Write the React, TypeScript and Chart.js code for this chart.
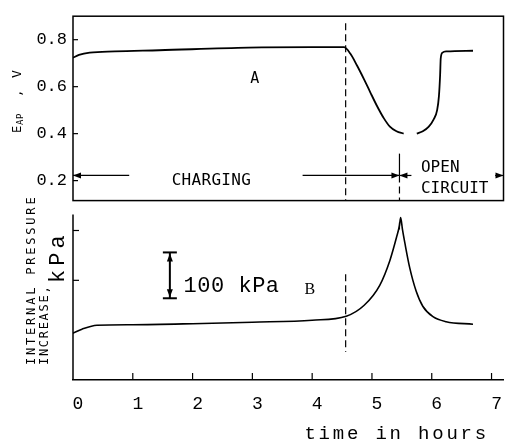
import { useEffect, useRef } from 'react';
import { Chart, registerables } from 'chart.js';

Chart.register(...registerables);

// ---- data ----
const TIME_A = [0, 0.1, 0.28, 0.7, 1.44, 2.93, 4.0, 4.53, 4.64, 4.75, 4.87, 4.97, 5.08, 5.2, 5.3, 5.41, 5.53, 5.64, 5.75, 5.85, 5.95, 6.03, 6.09, 6.12, 6.14, 6.15, 6.18, 6.25, 6.69];
const VOLT_A: (number | null)[] = [0.723, 0.735, 0.745, 0.75, 0.755, 0.766, 0.768, 0.768, 0.74, 0.69, 0.63, 0.577, 0.52, 0.465, 0.43, 0.41, 0.4, null, 0.4, 0.41, 0.43, 0.46, 0.5, 0.56, 0.65, 0.72, 0.745, 0.75, 0.753];

const TIME_B = [0, 0.15, 0.4, 1, 2, 3, 4, 4.57, 4.87, 5.13, 5.3, 5.41, 5.46, 5.48, 5.51, 5.55, 5.63, 5.74, 5.85, 6.02, 6.24, 6.69];
const PRESS_B = [94, 102, 110, 111, 113, 116, 120, 128, 150, 190, 240, 286, 310, 326, 302, 275, 226, 178, 148, 127, 117, 112];

const X_TICKS = [0, 1, 2, 3, 4, 5, 6, 7];
const V_TICKS = [0.2, 0.4, 0.6, 0.8];
const P_TICKS = [200, 300];

const X_MAX = 7.2;
const V_PANEL_MIN = 0.115;
const V_PANEL_MAX = 0.9;
const P_PANEL_MAX = 332;

// annotations (data units)
const CHARGE_END = 4.56;
const SWITCH_T = 5.46;
const ARROW_V = 0.222;
const SCALE_BAR_T = 1.62;
const SCALE_BAR_LO = 164;
const SCALE_BAR_HI = 256;

// layout fractions of the plot height
const TOP_FRAC = 185 / 365;
const BOTTOM_FRAC = 166 / 365;

const MONO = 'Liberation Mono';
const TYPE = 'DejaVu Sans Mono';

function line(ctx: CanvasRenderingContext2D, x1: number, y1: number, x2: number, y2: number) {
  ctx.beginPath();
  ctx.moveTo(x1, y1);
  ctx.lineTo(x2, y2);
  ctx.stroke();
}

function head(ctx: CanvasRenderingContext2D, x: number, y: number, dx: number, dy: number) {
  const L = 8, W = 3;
  ctx.beginPath();
  ctx.moveTo(x, y);
  ctx.lineTo(x - dx * L - dy * W, y - dy * L + dx * W);
  ctx.lineTo(x - dx * L + dy * W, y - dy * L - dx * W);
  ctx.closePath();
  ctx.fill();
}

function text(ctx: CanvasRenderingContext2D, s: string, x: number, y: number, font: string, align: CanvasTextAlign = 'left', spacing = 0) {
  ctx.save();
  ctx.font = font;
  ctx.textAlign = align;
  ctx.textBaseline = 'alphabetic';
  (ctx as any).letterSpacing = spacing + 'px';
  ctx.fillText(s, x, y);
  ctx.restore();
}

function rotText(ctx: CanvasRenderingContext2D, s: string, x: number, y: number, font: string, align: CanvasTextAlign = 'left', spacing = 0) {
  ctx.save();
  ctx.translate(x, y);
  ctx.rotate(-Math.PI / 2);
  ctx.font = font;
  ctx.textAlign = align;
  ctx.textBaseline = 'alphabetic';
  (ctx as any).letterSpacing = spacing + 'px';
  ctx.fillText(s, 0, 0);
  ctx.restore();
}

const annotations = {
  id: 'annotations',
  afterDatasetsDraw(chart: any) {
    const { ctx, chartArea: ca, scales } = chart;
    const x = scales.x, yA = scales.yA, yB = scales.yB;
    const px = (t: number) => x.getPixelForValue(t);
    ctx.save();
    ctx.strokeStyle = '#000';
    ctx.fillStyle = '#000';
    ctx.lineWidth = 1.5;

    // top panel frame
    const tTop = yA.getPixelForValue(V_PANEL_MAX);
    const tBot = yA.getPixelForValue(V_PANEL_MIN);
    ctx.strokeRect(ca.left, tTop, ca.right - ca.left, tBot - tTop);
    // bottom panel left axis
    line(ctx, ca.left, yB.getPixelForValue(P_PANEL_MAX), ca.left, ca.bottom);

    // inward ticks
    ctx.lineWidth = 1.2;
    V_TICKS.forEach(v => { const p = yA.getPixelForValue(v); line(ctx, ca.left, p, ca.left + 5, p); });
    P_TICKS.forEach(v => { const p = yB.getPixelForValue(v); line(ctx, ca.left, p, ca.left + 6, p); });
    X_TICKS.slice(1).forEach(t => { const p = px(t); line(ctx, p, ca.bottom, p, ca.bottom - 7); });

    // dashed end-of-charge lines
    ctx.setLineDash([7, 4]);
    line(ctx, px(CHARGE_END), yA.getPixelForValue(0.87), px(CHARGE_END), tBot);
    line(ctx, px(CHARGE_END), yB.getPixelForValue(212), px(CHARGE_END), yB.getPixelForValue(56));
    line(ctx, px(SWITCH_T), yA.getPixelForValue(ARROW_V), px(SWITCH_T), tBot);
    ctx.setLineDash([]);
    line(ctx, px(SWITCH_T), yA.getPixelForValue(0.315), px(SWITCH_T), yA.getPixelForValue(ARROW_V));
    line(ctx, px(SWITCH_T), yB.getPixelForValue(316), px(SWITCH_T), yB.getPixelForValue(302));

    // CHARGING / OPEN CIRCUIT arrows
    const ay = yA.getPixelForValue(ARROW_V);
    ctx.lineWidth = 1.2;
    line(ctx, px(0), ay, px(0.94), ay);
    head(ctx, px(0), ay, -1, 0);
    line(ctx, px(3.84), ay, px(SWITCH_T), ay);
    head(ctx, px(SWITCH_T), ay, 1, 0);
    line(ctx, px(SWITCH_T), ay, px(5.66), ay);
    head(ctx, px(SWITCH_T), ay, -1, 0);
    line(ctx, px(7.06), ay, ca.right, ay);
    head(ctx, ca.right, ay, 1, 0);

    text(ctx, 'CHARGING', px(1.65), yA.getPixelForValue(0.18), `16px "${TYPE}"`, 'left', 0.3);
    text(ctx, 'OPEN', px(5.82), yA.getPixelForValue(0.236), `16px "${TYPE}"`);
    text(ctx, 'CIRCUIT', px(5.82), yA.getPixelForValue(0.146), `16px "${TYPE}"`);
    text(ctx, 'A', px(3.04), yA.getPixelForValue(0.617), `15px "${TYPE}"`, 'center');

    // 100 kPa scale bar
    ctx.lineWidth = 2;
    const sx = px(SCALE_BAR_T);
    const sHi = yB.getPixelForValue(SCALE_BAR_HI), sLo = yB.getPixelForValue(SCALE_BAR_LO);
    line(ctx, sx, sHi, sx, sLo);
    line(ctx, sx - 7, sHi, sx + 7, sHi);
    line(ctx, sx - 7, sLo, sx + 7, sLo);
    head(ctx, sx, sHi + 1, 0, -1);
    head(ctx, sx, sLo - 1, 0, 1);
    text(ctx, '100 kPa', px(1.85), yB.getPixelForValue(176), `22px "${MONO}"`, 'left', 0.5);
    text(ctx, 'B', px(3.87), yB.getPixelForValue(172), `16px "Liberation Serif"`);

    // axis titles
    text(ctx, 'time in hours', px(3.87), ca.bottom + 59, `19px "${MONO}"`, 'left', 2.8);

    rotText(ctx, 'E', 21, 133, `12px "${TYPE}"`);
    rotText(ctx, 'AP', 23, 125, `9px "${TYPE}"`, 'left', 0.5);
    rotText(ctx, ',', 21, 97, `12px "${TYPE}"`);
    rotText(ctx, 'V', 21, 78, `13px "${TYPE}"`);

    rotText(ctx, 'INTERNAL PRESSURE', 35, 365, `12px "${TYPE}"`, 'left', 2.8);
    rotText(ctx, 'INCREASE,', 48, 365, `12px "${TYPE}"`, 'left', 1.7);
    rotText(ctx, 'kPa', 64, 283, `22px "${MONO}"`, 'left', 4);

    ctx.restore();
  },
};

export default function App() {
  const ref = useRef<HTMLCanvasElement>(null);
  useEffect(() => {
    const dataA = TIME_A.map((t, i) => ({ x: t, y: VOLT_A[i] }));
    const dataB = TIME_B.map((t, i) => ({ x: t, y: PRESS_B[i] }));
    const yAMin = V_PANEL_MAX - (V_PANEL_MAX - V_PANEL_MIN) / TOP_FRAC;
    const yBMax = P_PANEL_MAX / BOTTOM_FRAC;
    const chart = new Chart(ref.current!, {
      type: 'line',
      data: {
        datasets: [
          { label: 'A', data: dataA as any, yAxisID: 'yA', borderColor: '#000', borderWidth: 1.8, pointRadius: 0, cubicInterpolationMode: 'monotone', spanGaps: false, fill: false },
          { label: 'B', data: dataB as any, yAxisID: 'yB', borderColor: '#000', borderWidth: 1.6, pointRadius: 0, cubicInterpolationMode: 'monotone', fill: false },
        ],
      },
      options: {
        animation: false,
        responsive: false,
        devicePixelRatio: 1,
        events: [],
        layout: { padding: { top: 15, right: 2, left: 0, bottom: 0 } },
        plugins: { legend: { display: false }, tooltip: { enabled: false } },
        scales: {
          x: {
            type: 'linear',
            min: 0,
            max: X_MAX,
            grid: { display: false, drawTicks: false },
            border: { display: true, color: '#000', width: 1.5 },
            afterBuildTicks: (s: any) => { s.ticks = X_TICKS.map(v => ({ value: v })); },
            afterFit: (s: any) => { s.height = 64; },
            ticks: {
              color: '#000',
              font: { family: MONO, size: 18 },
              padding: 13,
              labelOffset: 5,
              autoSkip: false,
              maxRotation: 0,
              callback: (v: any) => String(v),
            },
          },
          yA: {
            type: 'linear',
            position: 'left',
            min: yAMin,
            max: V_PANEL_MAX,
            grid: { display: false, drawTicks: false },
            border: { display: false },
            afterBuildTicks: (s: any) => { s.ticks = V_TICKS.map(v => ({ value: v })); },
            afterFit: (s: any) => { s.width = 73; },
            ticks: {
              color: '#000',
              font: { family: MONO, size: 17 },
              padding: 6,
              callback: (v: any) => Number(v).toFixed(1),
            },
          },
          yB: {
            type: 'linear',
            position: 'left',
            display: false,
            min: 0,
            max: yBMax,
          },
        },
      },
      plugins: [annotations],
    } as any);
    return () => chart.destroy();
  }, []);
  return (
    <div style={{ position: 'fixed', left: 0, top: 0, width: 510, height: 444, background: '#fff' }}>
      <canvas ref={ref} width={510} height={444} style={{ display: 'block', width: 510, height: 444 }} />
    </div>
  );
}
